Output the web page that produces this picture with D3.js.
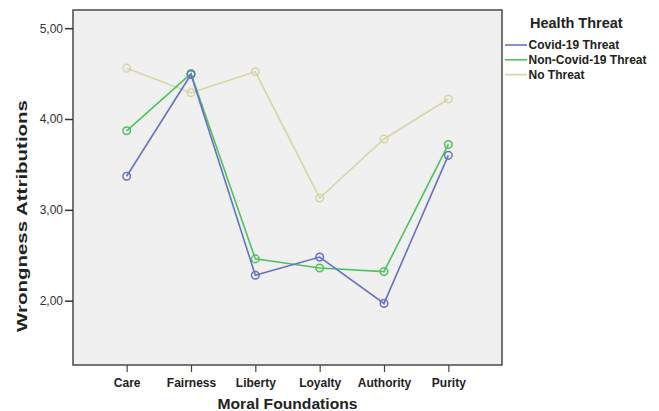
<!DOCTYPE html>
<html><head><meta charset="utf-8">
<script src="https://cdn.jsdelivr.net/npm/d3@7"></script>
<style>body{margin:0;background:#fff;} text{font-family:"Liberation Sans",Arial,sans-serif;}</style>
</head><body><svg id="c" width="659" height="411"></svg>
<script>
const categories = ["Care","Fairness","Liberty","Loyalty","Authority","Purity"];
const seriesNames = ["Covid-19 Threat","Non-Covid-19 Threat","No Threat"];
const covidValues = [3.37, 4.49, 2.28, 2.48, 1.97, 3.60];
const nonCovidValues = [3.87, 4.50, 2.46, 2.36, 2.32, 3.72];
const noThreatValues = [4.56, 4.29, 4.52, 3.13, 3.78, 4.22];
const yTicks = [2, 3, 4, 5];
const colors = ["#6574c2", "#4cc35c", "#d9d4a4"];

const series = [covidValues, nonCovidValues, noThreatValues].map((v,i)=>({name:seriesNames[i], values:v, color:colors[i]}));

const svg = d3.select("#c");
const L=73, R=502, T=10, B=365;
const x = d3.scalePoint().domain(categories).range([L,R]).padding(0.834);
const y = d3.scaleLinear().domain([1.292,5.2]).range([B,T]);

svg.append("rect").attr("x",L).attr("y",T).attr("width",R-L).attr("height",B-T)
  .attr("fill","#f0f0f0").attr("stroke","#4a4a4a").attr("stroke-width",1.5);

const yAxis = svg.append("g").attr("transform",`translate(${L},0)`)
  .call(d3.axisLeft(y).tickValues(yTicks).tickFormat(d=>d3.format(".2f")(d).replace(".",",")).tickSize(8).tickPadding(2));
yAxis.select(".domain").remove();
yAxis.selectAll("line").attr("stroke","#333").attr("stroke-width",1.5);
yAxis.selectAll("text").attr("font-size",12).attr("fill","#333").attr("font-family","Liberation Sans, Arial, sans-serif");

const xAxis = svg.append("g").attr("transform",`translate(0,${B})`)
  .call(d3.axisBottom(x).tickSize(7).tickPadding(6));
xAxis.select(".domain").remove();
xAxis.selectAll("line").attr("stroke","#444").attr("stroke-width",1.2);
xAxis.selectAll("text").attr("font-size",12).attr("font-weight","bold").attr("fill","#222").attr("font-family","Liberation Sans, Arial, sans-serif");

const line = d3.line().x((d,i)=>x(categories[i])).y(d=>y(d));
[...series].reverse().forEach(s=>{
  svg.append("path").datum(s.values).attr("d",line).attr("fill","none")
    .attr("stroke",s.color).attr("stroke-width",1.6);
  svg.selectAll(null).data(s.values).enter().append("circle")
    .attr("cx",(d,i)=>x(categories[i])).attr("cy",d=>y(d)).attr("r",3.8)
    .attr("fill","none").attr("stroke",s.color).attr("stroke-width",1.5);
});

svg.append("text").attr("x",23).attr("y",216).attr("transform","rotate(-90,23,216)")
  .attr("text-anchor","middle").attr("dominant-baseline","middle")
  .attr("textLength",232).attr("lengthAdjust","spacingAndGlyphs")
  .attr("font-size",15.5).attr("font-weight","bold").attr("fill","#222").text("Wrongness Attributions");
svg.append("text").attr("x",287.5).attr("y",405).attr("text-anchor","middle").attr("dominant-baseline","middle")
  .attr("textLength",140).attr("lengthAdjust","spacingAndGlyphs")
  .attr("font-size",15).attr("font-weight","bold").attr("fill","#222").text("Moral Foundations");

svg.append("text").attr("x",530).attr("y",24).attr("dominant-baseline","middle")
  .attr("font-size",14.5).attr("font-weight","bold").attr("fill","#222").text("Health Threat");
const leg = svg.selectAll("g.leg").data(series).enter().append("g").attr("class","leg")
  .attr("transform",(d,i)=>`translate(0,${45+i*14.8})`);
leg.append("line").attr("x1",505).attr("x2",527).attr("stroke",d=>d.color).attr("stroke-width",1.6);
leg.append("text").attr("x",528.5).attr("y",1).attr("dominant-baseline","middle")
  .attr("font-size",12).attr("font-weight","bold").attr("fill","#222").text(d=>d.name);
</script></body></html>
